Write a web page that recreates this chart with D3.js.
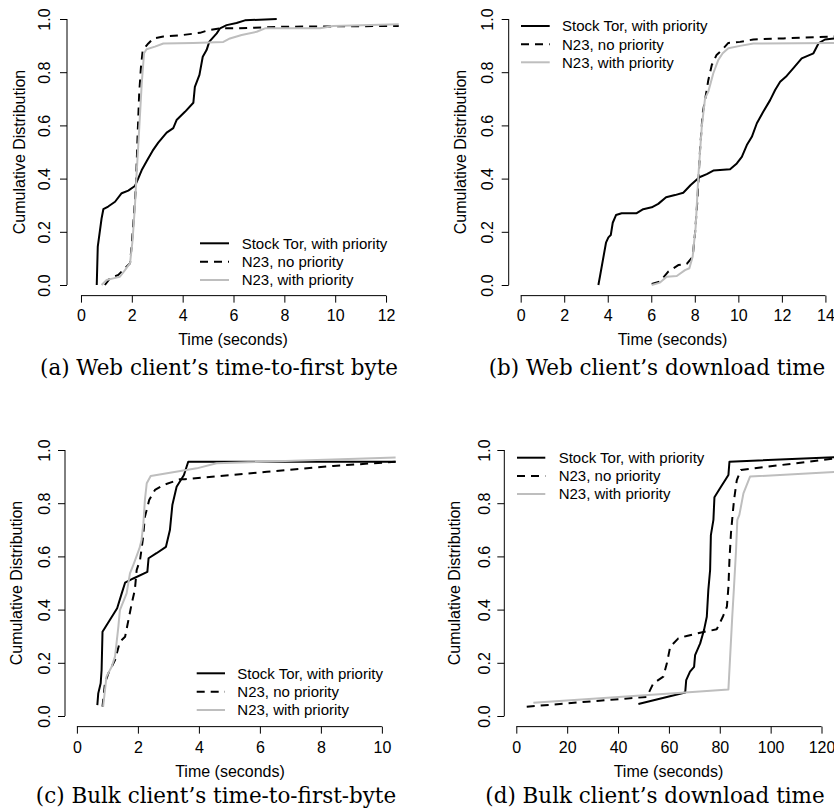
<!DOCTYPE html>
<html><head><meta charset="utf-8">
<script src="https://cdn.jsdelivr.net/npm/d3@7"></script>
<style>body{margin:0;background:#fff}svg{display:block}</style>
</head><body>
<svg id="chart" width="834" height="811"></svg>
<script>
// ---------- data ----------
const seriesNames = ["Stock Tor, with priority", "N23, no priority", "N23, with priority"];
const yTicks = [0, 0.2, 0.4, 0.6, 0.8, 1.0];
const yTickLabels = ["0.0", "0.2", "0.4", "0.6", "0.8", "1.0"];
const xTicksA = [0, 2, 4, 6, 8, 10, 12];
const xTicksB = [0, 2, 4, 6, 8, 10, 12, 14];
const xTicksC = [0, 2, 4, 6, 8, 10];
const xTicksD = [0, 20, 40, 60, 80, 100, 120];
const xTitle = "Time (seconds)";
const yTitle = "Cumulative Distribution";
const captions = [
  "(a) Web client\u2019s time-to-first byte",
  "(b) Web client\u2019s download time",
  "(c) Bulk client\u2019s time-to-first-byte",
  "(d) Bulk client\u2019s download time"
];

// (a) Web client's time-to-first byte  [time, cdf]
const webTtfbStock = [[0.62,0],[0.66,0.144],[0.81,0.25],[0.88,0.285],[1.07,0.295],[1.34,0.313],[1.6,0.345],[1.86,0.355],[2.12,0.372],[2.25,0.4],[2.39,0.432],[2.61,0.47],[2.82,0.505],[3.04,0.535],[3.37,0.573],[3.63,0.59],[3.76,0.62],[4.09,0.651],[4.42,0.685],[4.48,0.745],[4.66,0.79],[4.79,0.858],[4.94,0.883],[5.05,0.915],[5.34,0.946],[5.47,0.965],[5.73,0.977],[6.12,0.985],[6.45,0.995],[7.7,1.0]];
const webTtfbN23NoPrio = [[0.94,0],[1.14,0.025],[1.47,0.038],[1.73,0.063],[1.93,0.082],[1.99,0.144],[2.09,0.27],[2.16,0.37],[2.23,0.57],[2.29,0.72],[2.36,0.82],[2.43,0.883],[2.65,0.908],[2.85,0.927],[3.24,0.934],[4.02,0.94],[4.68,0.948],[5.01,0.958],[5.47,0.965],[6.12,0.965],[7.96,0.971],[12.5,0.974]];
const webTtfbN23Prio = [[0.81,0],[1.01,0.019],[1.27,0.025],[1.53,0.031],[1.73,0.056],[1.93,0.082],[2.03,0.169],[2.12,0.294],[2.19,0.42],[2.28,0.57],[2.39,0.758],[2.48,0.871],[2.58,0.886],[2.91,0.896],[3.24,0.908],[4.42,0.91],[5.6,0.914],[5.86,0.927],[6.32,0.94],[6.91,0.952],[7.24,0.965],[9.4,0.965],[9.92,0.974],[12.5,0.98]];

// (b) Web client's download time
const webDlStock = [[3.57,0],[3.64,0.031],[3.92,0.159],[4.03,0.179],[4.14,0.188],[4.23,0.234],[4.38,0.263],[4.64,0.27],[5.33,0.27],[5.63,0.285],[6.02,0.292],[6.32,0.305],[6.68,0.33],[7.09,0.338],[7.47,0.347],[7.81,0.376],[8.21,0.405],[8.55,0.417],[8.85,0.43],[9.62,0.435],[9.93,0.457],[10.16,0.482],[10.39,0.526],[10.62,0.557],[10.85,0.608],[11.15,0.652],[11.46,0.695],[11.69,0.733],[11.92,0.764],[12.22,0.786],[12.53,0.815],[12.91,0.852],[13.45,0.871],[13.68,0.908],[13.98,0.923],[14.5,0.928]];
const webDlN23NoPrio = [[6.02,0.004],[6.4,0.013],[6.78,0.05],[7.24,0.075],[7.63,0.079],[7.9,0.106],[8.01,0.194],[8.12,0.32],[8.24,0.508],[8.36,0.645],[8.52,0.72],[8.62,0.77],[8.78,0.827],[9.0,0.865],[9.24,0.883],[9.54,0.91],[10.08,0.914],[10.69,0.923],[12.07,0.927],[14.5,0.935]];
const webDlN23Prio = [[6.02,0],[6.4,0.009],[6.71,0.031],[7.17,0.034],[7.55,0.056],[7.75,0.063],[7.9,0.106],[8.04,0.219],[8.16,0.407],[8.32,0.595],[8.47,0.702],[8.62,0.727],[8.85,0.796],[9.08,0.846],[9.28,0.871],[9.54,0.89],[10.08,0.899],[10.69,0.908],[14.5,0.91]];

// (c) Bulk client's time-to-first-byte
const bulkTtfbStock = [[0.67,0.041],[0.7,0.085],[0.78,0.123],[0.81,0.173],[0.84,0.317],[1.08,0.361],[1.32,0.405],[1.47,0.461],[1.58,0.501],[1.85,0.517],[2.31,0.542],[2.35,0.593],[2.61,0.612],[2.92,0.636],[3.05,0.699],[3.13,0.793],[3.27,0.862],[3.51,0.906],[3.65,0.956],[10.45,0.956]];
const bulkTtfbN23NoPrio = [[0.84,0.035],[0.92,0.123],[1.03,0.16],[1.25,0.21],[1.41,0.279],[1.58,0.298],[1.69,0.361],[1.8,0.424],[1.9,0.474],[1.96,0.549],[2.07,0.586],[2.16,0.662],[2.23,0.749],[2.37,0.812],[2.56,0.85],[2.83,0.868],[3.38,0.89],[3.54,0.89],[6.23,0.918],[8.41,0.94],[10.45,0.956]];
const bulkTtfbN23Prio = [[0.86,0.035],[0.97,0.148],[1.14,0.185],[1.25,0.223],[1.36,0.336],[1.41,0.398],[1.63,0.461],[1.74,0.536],[1.87,0.574],[2.05,0.63],[2.12,0.662],[2.18,0.724],[2.23,0.812],[2.29,0.875],[2.42,0.902],[3.93,0.931],[4.58,0.95],[10.45,0.972]];

// (d) Bulk client's download time
const bulkDlStock = [[48.0,0.045],[66.4,0.088],[66.8,0.135],[68.3,0.167],[69.9,0.185],[70.3,0.229],[72.3,0.273],[73.8,0.323],[74.9,0.373],[75.5,0.474],[76.2,0.549],[76.5,0.68],[77.5,0.737],[77.9,0.822],[80.1,0.856],[83.4,0.906],[83.8,0.956],[126,0.973]];
const bulkDlN23NoPrio = [[4.1,0.035],[51.3,0.072],[53.9,0.123],[57.8,0.148],[59.2,0.198],[60.5,0.26],[63.7,0.292],[67.0,0.301],[72.3,0.313],[78.8,0.326],[81.2,0.373],[82.8,0.411],[83.4,0.486],[83.8,0.586],[84.4,0.687],[85.1,0.762],[85.6,0.812],[86.7,0.887],[88.3,0.925],[126,0.969]];
const bulkDlN23Prio = [[6.7,0.05],[66.4,0.088],[83.4,0.1],[84.9,0.373],[85.6,0.486],[86.4,0.624],[86.9,0.737],[87.7,0.756],[89.3,0.837],[91.9,0.9],[126,0.918]];

// ---------- layout ----------
const FONT = "'Liberation Sans', Arial, Helvetica, sans-serif";
const SERIF = "'DejaVu Serif', 'Liberation Serif', serif";
const styles = [
  {color: "#000000", dash: null},
  {color: "#000000", dash: "8,6"},
  {color: "#bebebe", dash: null}
];

const panels = [
  {series: [webTtfbStock, webTtfbN23NoPrio, webTtfbN23Prio], xTicks: xTicksA, caption: captions[0],
   xDomain: [-0.55, 12.51], left: 67, right: 399, y0: 285, y1: 19,
   yLabX: 50, yTitleX: 25, xLabY: 321.5, xTitleY: 345, capY: 375, capX: 219, capW: 358,
   legX1: 200, legX2: 229, legTX: 241.7, legY: [243.3, 261.7, 280]},
  {series: [webDlStock, webDlN23NoPrio, webDlN23Prio], xTicks: xTicksB, caption: captions[1],
   xDomain: [-0.55, 14.5], left: 508.7, right: 836.3, y0: 285, y1: 19,
   yLabX: 493, yTitleX: 466, xLabY: 321.5, xTitleY: 345, capY: 375, capX: 657, capW: 335,
   legX1: 521, legX2: 549.7, legTX: 562, legY: [26, 44.3, 62.3]},
  {series: [bulkTtfbStock, bulkTtfbN23NoPrio, bulkTtfbN23Prio], xTicks: xTicksC, caption: captions[2],
   xDomain: [-0.39, 10.43], left: 65, right: 395, y0: 716, y1: 450,
   yLabX: 50, yTitleX: 21.7, xLabY: 752.7, xTitleY: 777, capY: 803, capX: 216, capW: 362,
   legX1: 196.7, legX2: 225, legTX: 237.3, legY: [673.3, 691.7, 710]},
  {series: [bulkDlStock, bulkDlN23NoPrio, bulkDlN23Prio], xTicks: xTicksD, caption: captions[3],
   xDomain: [-4.72, 124.4], left: 504.3, right: 832.7, y0: 716, y1: 450,
   yLabX: 489.7, yTitleX: 460.3, xLabY: 752.7, xTitleY: 777, capY: 803, capX: 655, capW: 340,
   legX1: 517, legX2: 545.3, legTX: 558.7, legY: [457.7, 476, 494]}
];

const svg = d3.select("#chart");
const defs = svg.append("defs");

// caption font size fitted once from panel (a)
let capSize = 18;
{
  const t = svg.append("text").attr("font-family", SERIF).attr("font-size", 20).text(captions[0]);
  const w = t.node().getComputedTextLength();
  capSize = 20 * panels[0].capW / w;
  t.remove();
}

panels.forEach((p, i) => {
  const unit = p.y0 - p.y1;
  const top = p.y1 - 0.04 * unit, bottom = p.y0 + 0.04 * unit;
  const x = d3.scaleLinear().domain(p.xDomain).range([p.left, p.right]);
  const y = d3.scaleLinear().domain([-0.04, 1.04]).range([bottom, top]);
  const g = svg.append("g");

  // x axis (line spans first to last tick, like R)
  const xa = g.append("g").attr("transform", `translate(0,${bottom})`)
    .call(d3.axisBottom(x).tickValues(p.xTicks).tickSize(7).tickSizeOuter(0).tickFormat(d3.format("d")));
  xa.select(".domain").remove();
  xa.append("line").attr("x1", x(p.xTicks[0])).attr("x2", x(p.xTicks[p.xTicks.length - 1]))
    .attr("stroke", "#000").attr("stroke-width", 1);
  xa.selectAll(".tick line").attr("stroke", "#000");
  xa.selectAll(".tick text").attr("y", p.xLabY - bottom).attr("dy", 0)
    .attr("font-family", FONT).attr("font-size", 16).attr("fill", "#000");

  // y axis
  const ya = g.append("g").attr("transform", `translate(${p.left},0)`)
    .call(d3.axisLeft(y).tickValues(yTicks).tickSize(7).tickSizeOuter(0).tickFormat((d, k) => yTickLabels[k]));
  ya.select(".domain").remove();
  ya.append("line").attr("y1", y(0)).attr("y2", y(1)).attr("stroke", "#000").attr("stroke-width", 1);
  ya.selectAll(".tick line").attr("stroke", "#000");
  ya.selectAll(".tick text")
    .attr("x", null).attr("dy", null)
    .attr("transform", `translate(${p.yLabX - p.left},0) rotate(-90)`)
    .attr("text-anchor", "middle")
    .attr("font-family", FONT).attr("font-size", 16).attr("fill", "#000");

  // titles
  g.append("text").attr("x", (p.left + p.right) / 2).attr("y", p.xTitleY)
    .attr("text-anchor", "middle").attr("font-family", FONT).attr("font-size", 16).text(xTitle);
  g.append("text").attr("transform", `translate(${p.yTitleX},${(top + bottom) / 2}) rotate(-90)`)
    .attr("text-anchor", "middle").attr("font-family", FONT).attr("font-size", 16).text(yTitle);

  // caption
  g.append("text").attr("x", p.capX).attr("y", p.capY).attr("text-anchor", "middle")
    .attr("font-family", SERIF).attr("font-size", capSize).attr("fill", "#000").text(p.caption);

  // clip
  const cid = "clip" + i;
  defs.append("clipPath").attr("id", cid).append("rect")
    .attr("x", p.left).attr("y", top).attr("width", Math.max(p.right, 840) - p.left).attr("height", bottom - top);

  const line = d3.line().x(d => x(d[0])).y(d => y(d[1]));
  const plot = g.append("g").attr("clip-path", `url(#${cid})`);
  // draw order: stock, N23 no prio, N23 prio (gray on top? R draws in order)
  p.series.forEach((s, k) => {
    plot.append("path").datum(s).attr("d", line)
      .attr("fill", "none").attr("stroke", styles[k].color).attr("stroke-width", 2)
      .attr("stroke-linejoin", "round")
      .attr("stroke-dasharray", styles[k].dash);
  });

  // legend
  seriesNames.forEach((name, k) => {
    const ly = p.legY[k];
    g.append("line").attr("x1", p.legX1).attr("x2", p.legX2).attr("y1", ly).attr("y2", ly)
      .attr("stroke", styles[k].color).attr("stroke-width", 2).attr("stroke-dasharray", styles[k].dash);
    g.append("text").attr("x", p.legTX).attr("y", ly + 5.4)
      .attr("font-family", FONT).attr("font-size", 15).attr("fill", "#000").text(name);
  });
});
</script>
</body></html>
